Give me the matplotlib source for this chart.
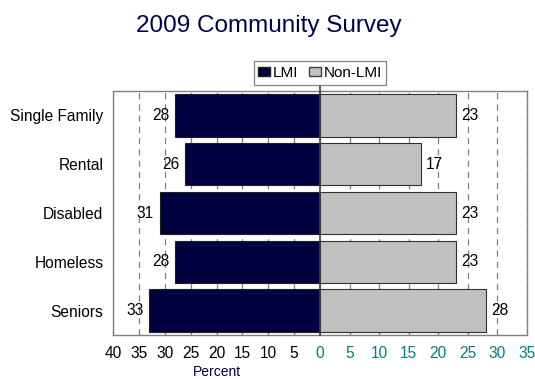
import matplotlib
matplotlib.use("Agg")
import matplotlib.pyplot as plt
from matplotlib.patches import Patch

plt.rcParams['font.family'] = ['Liberation Sans', 'DejaVu Sans']

categories = ["Single Family", "Rental", "Disabled", "Homeless", "Seniors"]
lmi = [28, 26, 31, 28, 33]
non_lmi = [23, 17, 23, 23, 28]
left_ticks = [40, 35, 30, 25, 20, 15, 10, 5]
right_ticks = [0, 5, 10, 15, 20, 25, 30, 35]
title = "2009 Community Survey"
xlabel = "Percent"

W, H = 535, 379
fig = plt.figure(figsize=(W / 100, H / 100), dpi=100)

x0, xc, x1 = 113, 320, 527
ytop, ybot = 91, 335
fy = lambda p: 1 - p / H
axL = fig.add_axes([x0 / W, fy(ybot), (xc - x0) / W, (ybot - ytop) / H])
axR = fig.add_axes([xc / W, fy(ybot), (x1 - xc) / W, (ybot - ytop) / H])

navy = "#000040"
grey = "#C0C0C0"
pos = list(range(len(categories)))

axL.barh(pos, lmi, height=0.87, color=navy, edgecolor="#202020", linewidth=0.8, zorder=3)
axR.barh(pos, non_lmi, height=0.87, color=grey, edgecolor="#303030", linewidth=0.8, zorder=3)

axL.set_xlim(40, 0)
axR.set_xlim(0, 35)
for ax in (axL, axR):
    ax.set_ylim(len(categories) - 0.5, -0.5)
    for s in ax.spines.values():
        s.set_color("#808080")
        s.set_linewidth(1.0)
    ax.grid(axis="x", color="#808080", linestyle=(0, (5, 4)), linewidth=0.9, zorder=1)
    ax.set_axisbelow(True)

axL.spines["right"].set_visible(False)
axR.spines["left"].set_visible(False)

fs = 11.2
axL.set_xticks(left_ticks)
axL.set_xticklabels([str(t) for t in left_ticks])
axR.set_xticks(right_ticks)
axR.set_xticklabels([str(t) for t in right_ticks])
axL.tick_params(axis="x", direction="in", length=3, color="#808080", labelsize=fs, labelcolor="black", pad=8)
axR.tick_params(axis="x", direction="in", length=3, color="#808080", labelsize=fs, labelcolor="#008080", pad=8)

axL.set_yticks(pos)
axL.set_yticklabels(categories, fontsize=fs)
axL.tick_params(axis="y", length=0, pad=7)
axR.set_yticks([])

for i, v in enumerate(lmi):
    axL.annotate(str(v), (v, i), xytext=(-4, 0), textcoords="offset points",
                 ha="right", va="center", fontsize=fs, zorder=5)
for i, v in enumerate(non_lmi):
    axR.annotate(str(v), (v, i), xytext=(4, 0), textcoords="offset points",
                 ha="left", va="center", fontsize=fs, zorder=5)

# center line
fig.add_artist(plt.Line2D([xc / W, xc / W], [fy(ybot), fy(86)], color="#404040", linewidth=1.2))

fig.text(269 / W, fy(32), title, ha="center", va="baseline", fontsize=17.5, color="#000050")
fig.text(217 / W, fy(371.5), xlabel, ha="center", va="center", fontsize=10, color="#000050")

handles = [Patch(facecolor=navy, edgecolor="#202020", label="LMI"),
           Patch(facecolor=grey, edgecolor="#404040", label="Non-LMI")]
leg = fig.legend(handles=handles, loc="center", bbox_to_anchor=(xc / W, fy(73)), ncol=2,
                 fontsize=11, frameon=True, fancybox=False, handlelength=0.8, handleheight=0.6,
                 handletextpad=0.15, columnspacing=0.7, borderpad=0.3, borderaxespad=0)
leg.get_frame().set_edgecolor("#606060")
leg.get_frame().set_linewidth(0.9)

fig.savefig("out.png", dpi=100)
